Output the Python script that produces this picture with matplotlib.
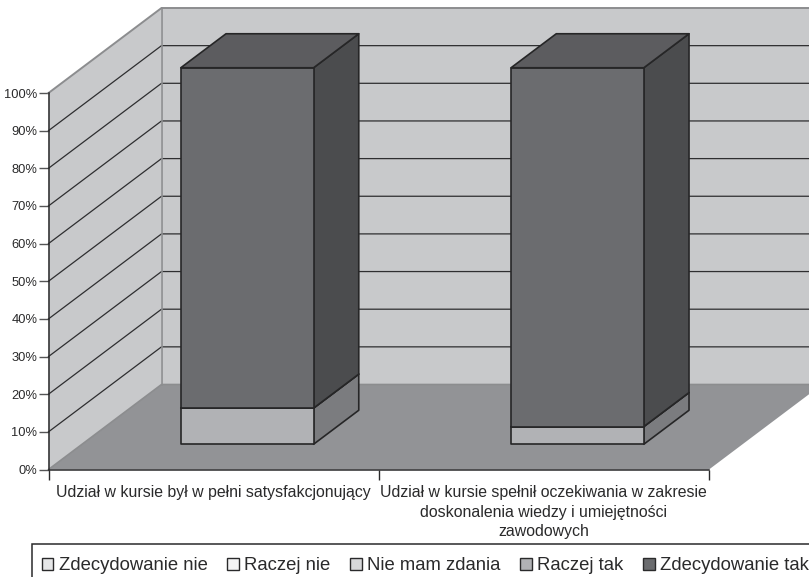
import matplotlib
matplotlib.use('Agg')
import matplotlib.pyplot as plt
from matplotlib.patches import Polygon, Patch, Rectangle

plt.rcParams['font.family'] = ['Liberation Sans', 'DejaVu Sans']

categories = ['Udział w kursie był w pełni satysfakcjonujący',
              'Udział w kursie spełnił oczekiwania w zakresie\ndoskonalenia wiedzy i umiejętności\nzawodowych']
series_names = ['Zdecydowanie nie', 'Raczej nie', 'Nie mam zdania', 'Raczej tak', 'Zdecydowanie tak']
zdecydowanie_nie = [0, 0]
raczej_nie = [0, 0]
nie_mam_zdania = [0, 0]
raczej_tak = [9.6, 4.7]
zdecydowanie_tak = [90.4, 95.3]
series = [zdecydowanie_nie, raczej_nie, nie_mam_zdania, raczej_tak, zdecydowanie_tak]

# front, side and top shade of each series
front_cols = ['#e6e7e8', '#f4f4f5', '#d7d8da', '#b1b2b5', '#6b6c6f']
side_cols = ['#a8a9ab', '#b5b6b8', '#9a9b9d', '#7b7c7f', '#4b4c4e']
top_cols = ['#c4c5c7', '#d0d1d2', '#b8b9bb', '#949598', '#5c5c5f']

W, H = 809, 577
fig = plt.figure(figsize=(W / 100, H / 100), dpi=100)
# axes spans the front plane of the chart, pixels from the reference
ax = fig.add_axes([48.5 / W, 1 - 469.5 / H, 660.5 / W, 376.5 / H])
ax.set_xlim(0, 2)
ax.set_ylim(0, 100)
ax.patch.set_visible(False)

# one unit of depth in data units (113 px right, 85 px up)
DX = 113 / 330.25
DY = 85 / 3.765


def pt(x, y, d):
    return (x + d * DX, y + d * DY)


def poly(points, fc, ec='none', lw=0, z=1):
    ax.add_patch(Polygon(points, closed=True, fc=fc, ec=ec, lw=lw, zorder=z, clip_on=False, joinstyle='round'))


wall = '#c8c9cb'
floor = '#929396'
edge = '#8c8d8f'
poly([pt(0, 0, 0), pt(0, 100, 0), pt(0, 100, 1), pt(0, 0, 1)], wall)
poly([pt(0, 0, 1), pt(0, 100, 1), pt(2, 100, 1), pt(2, 0, 1)], wall)
poly([pt(0, 0, 0), pt(2, 0, 0), pt(2, 0, 1), pt(0, 0, 1)], floor)

for v in range(10, 100, 10):
    a, b, c = pt(0, v, 0), pt(0, v, 1), pt(2, v, 1)
    ax.plot([a[0], b[0], c[0]], [a[1], b[1], c[1]], color='#2e2e30', lw=0.9, zorder=2, clip_on=False)

a, b, c = pt(0, 100, 0), pt(0, 100, 1), pt(2, 100, 1)
ax.plot([a[0], b[0], c[0]], [a[1], b[1], c[1]], color=edge, lw=1.4, zorder=2, clip_on=False)
a, b, c = pt(0, 0, 0), pt(0, 0, 1), pt(2, 0, 1)
ax.plot([a[0], b[0], c[0]], [a[1], b[1], c[1]], color=edge, lw=1.2, zorder=2, clip_on=False)
a, b = pt(0, 0, 1), pt(0, 100, 1)
ax.plot([a[0], b[0]], [a[1], b[1]], color=edge, lw=1.2, zorder=2, clip_on=False)

# bars stand between these depths, gap width 150%
BAR_W = 0.402
D0, D1 = 0.297, 0.697
OUT = '#262627'
for i in range(len(categories)):
    x0 = i + 0.5 - BAR_W / 2
    x1 = x0 + BAR_W
    bottom = 0
    z = 3
    for j, vals in enumerate(series):
        v = vals[i]
        if v == 0:
            continue
        top = bottom + v
        poly([pt(x1, bottom, D0), pt(x1, bottom, D1), pt(x1, top, D1), pt(x1, top, D0)],
             side_cols[j], OUT, 1.2, z)
        poly([pt(x0, bottom, D0), pt(x1, bottom, D0), pt(x1, top, D0), pt(x0, top, D0)],
             front_cols[j], OUT, 1.2, z)
        poly([pt(x0, top, D0), pt(x1, top, D0), pt(x1, top, D1), pt(x0, top, D1)],
             top_cols[j], OUT, 1.2, z)
        bottom = top
        z += 1

for s in ['top', 'right']:
    ax.spines[s].set_visible(False)
for s in ['left', 'bottom']:
    ax.spines[s].set_color('#2a2a2b')
    ax.spines[s].set_linewidth(1.1)
    ax.spines[s].set_zorder(6)

ax.set_yticks(range(0, 101, 10))
ax.set_yticklabels(['%d%%' % v for v in range(0, 101, 10)])
ax.tick_params(axis='y', length=7, width=1.0, color='#555556', labelsize=9.3, labelcolor='#2a2a2b', pad=1)
ax.set_xticks([0, 1, 2])
ax.set_xticklabels([])
ax.tick_params(axis='x', which='major', length=7, width=1.0, color='#2a2a2b')
ax.set_xticks([0.5, 1.5], categories, minor=True)
ax.tick_params(axis='x', which='minor', length=0, labelsize=11.4, labelcolor='#2a2a2b', pad=11.2)
for lab in ax.get_xticklabels(minor=True):
    lab.set_linespacing(1.39)

# frame runs off the right and bottom of the picture
fig.add_artist(Rectangle((31.5 / W, 1 - 622 / H), 830 / W, 78 / H, transform=fig.transFigure,
                         fc='white', ec='#2a2a2b', lw=1.1, clip_on=False))
handles = [Patch(fc=front_cols[k], ec='#2a2a2b', lw=1.0, label=series_names[k]) for k in range(5)]
leg = fig.legend(handles=handles, ncol=5, loc='center left', bbox_to_anchor=(42 / W, 1 - 566 / H),
                 bbox_transform=fig.transFigure, fontsize=13.3, frameon=False,
                 borderaxespad=0, borderpad=0,
                 handlelength=0.62, handleheight=0.62, handletextpad=0.28, columnspacing=1.08,
                 labelcolor='#2a2a2b')

fig.savefig('out.png', dpi=100)
